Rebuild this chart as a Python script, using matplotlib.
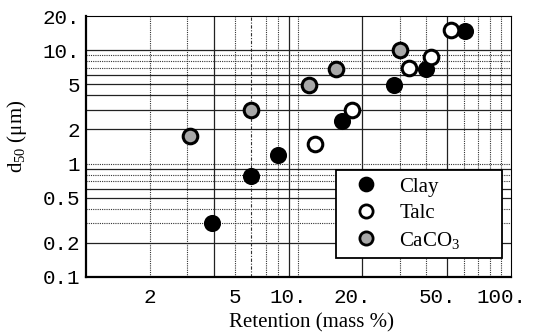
import numpy as np
import matplotlib
matplotlib.use("Agg")
import matplotlib.pyplot as plt
import matplotlib.transforms as mtransforms
from matplotlib.lines import Line2D

# Retention (mass %) vs. median particle size d50 (um)
clay_x = [3.9, 6.0, 8.0, 16.0, 28.0, 40.0, 61.0]
clay_y = [0.30, 0.78, 1.2, 2.4, 4.9, 6.8, 14.7]
talc_x = [12.0, 17.8, 33.0, 42.0, 52.0]
talc_y = [1.5, 3.0, 7.0, 8.7, 15.0]
caco3_x = [3.1, 6.0, 11.2, 15.0, 30.0]
caco3_y = [1.75, 3.0, 4.9, 6.8, 10.0]

x_ticks = [2, 5, 10, 20, 50, 100]
x_tick_labels = ["2", "5", "10.", "20.", "50.", "100."]
y_ticks = [0.1, 0.2, 0.5, 1, 2, 5, 10, 20]
y_tick_labels = ["0.1", "0.2", "0.5", "1", "2", "5", "10.", "20."]

# grid lines: (value, style) with 's' solid and 'd' dotted
x_grid = [(2, 'd'), (3, 'd'), (4, 's'), (5, 'd'), (6, 'dd'), (7, 'd'), (8, 'd'),
          (9, 's'), (10, 'd'), (20, 's'), (30, 'd'), (40, 'd'), (50, 's'),
          (60, 'd'), (70, 'd'), (80, 'd'), (90, 'd')]
y_grid = [(0.2, 's'), (0.3, 'd'), (0.4, 'd'), (0.5, 's'), (0.6, 's'), (0.7, 'd'),
          (0.8, 'd'), (0.9, 's'), (1, 'd'), (2, 's'), (3, 's'), (4, 's'), (5, 's'),
          (6, 's'), (7, 'd'), (8, 'd'), (9, 'd'), (10, 's')]

plt.rcParams['mathtext.fontset'] = 'custom'
plt.rcParams['mathtext.rm'] = 'Liberation Serif'
plt.rcParams['mathtext.it'] = 'Liberation Serif:italic'

fig = plt.figure(figsize=(5.41, 3.36), dpi=100)
ax = fig.add_axes([0.159, 0.1756, 0.7855, 0.7764])
ax.set_xscale('log')
ax.set_yscale('log')
ax.set_xlim(1, 100)
ax.set_ylim(0.1, 20)

styles = {
    's': dict(color='#222222', lw=0.9, ls='-'),
    'd': dict(color='#333333', lw=0.8, ls=(0, (1, 1))),
    'dd': dict(color='#333333', lw=0.8, ls=(0, (3, 1.5, 1, 1.5))),
}
for v, st in x_grid:
    ax.axvline(v, zorder=1, **styles[st])
for v, st in y_grid:
    ax.axhline(v, zorder=1, **styles[st])

ms = 10.5
ax.plot(clay_x, clay_y, 'o', ms=ms, mfc='black', mec='black', mew=1.8, zorder=3)
ax.plot(talc_x, talc_y, 'o', ms=ms, mfc='white', mec='black', mew=2.2, zorder=3)
ax.plot(caco3_x, caco3_y, 'o', ms=ms, mfc='#a8a8a8', mec='black', mew=2.2, zorder=3)

# spines
for side in ('left', 'bottom'):
    ax.spines[side].set_linewidth(1.6)
for side in ('top', 'right'):
    ax.spines[side].set_linewidth(0.8)
    ax.spines[side].set_linestyle((0, (1, 1)))

ax.set_xticks(x_ticks)
ax.set_xticklabels(x_tick_labels)
ax.set_yticks(y_ticks)
ax.set_yticklabels(y_tick_labels)
ax.minorticks_off()
ax.tick_params(length=0, pad=4, labelsize=15)
for lab in ax.get_xticklabels() + ax.get_yticklabels():
    lab.set_family('Liberation Mono')
ax.tick_params(axis='x', pad=8)

# labels ending with a period sit slightly left of their tick
for lab in ax.get_xticklabels():
    if lab.get_text().endswith('.'):
        lab.set_transform(lab.get_transform() +
                          mtransforms.ScaledTranslation(-10 / 100, 0, fig.dpi_scale_trans))

ax.set_xlabel('Retention (mass %)', family='Liberation Serif', fontsize=15, va='center')
ax.xaxis.set_label_coords(0.531, -0.176)
ax.set_ylabel(r'd$_{\mathit{50}}$ (μm)', family='Liberation Serif', fontsize=15, va='center')
ax.yaxis.set_label_coords(-0.162, 0.54)

handles = [
    Line2D([], [], ls='none', marker='o', ms=9.5, mfc='black', mec='black', mew=1.8),
    Line2D([], [], ls='none', marker='o', ms=9.5, mfc='white', mec='black', mew=2.0),
    Line2D([], [], ls='none', marker='o', ms=9.5, mfc='#a8a8a8', mec='black', mew=2.0),
]
leg = ax.legend(handles, ['Clay', 'Talc', r'CaCO$_3$'], loc='lower left',
                bbox_to_anchor=(0.588, 0.073, 0.391, 0.337), mode='expand',
                prop=dict(family='Liberation Serif', size=15), fancybox=False,
                framealpha=1, edgecolor='black', borderpad=0.35,
                labelspacing=0.32, handletextpad=0.5, borderaxespad=0,
                handlelength=2.2)
leg.get_frame().set_linewidth(1.3)
leg.set_zorder(5)

fig.savefig('out.png', dpi=100)
